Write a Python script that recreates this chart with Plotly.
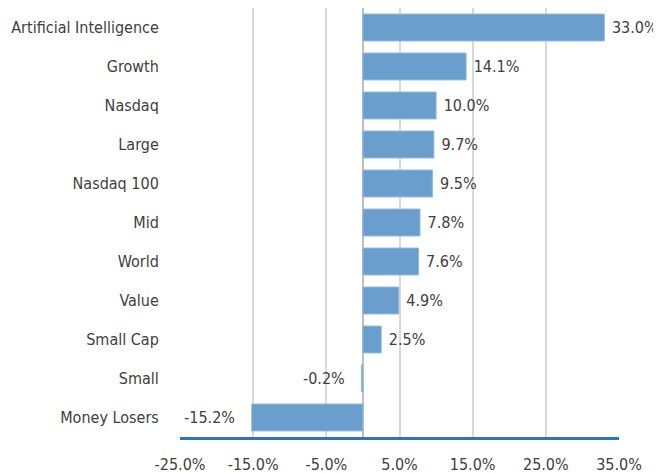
import plotly.graph_objects as go

categories = ["Artificial Intelligence", "Growth", "Nasdaq", "Large", "Nasdaq 100",
              "Mid", "World", "Value", "Small Cap", "Small", "Money Losers"]
values = [33.0, 14.1, 10.0, 9.7, 9.5, 7.8, 7.6, 4.9, 2.5, -0.2, -15.2]
tick_vals = [-25, -15, -5, 5, 15, 25, 35]
tick_text = ["-25.0%", "-15.0%", "-5.0%", "5.0%", "15.0%", "25.0%", "35.0%"]

FONT = "Liberation Sans Narrow, Arial Narrow, DejaVu Sans Condensed, sans-serif"
TXT = "#404040"
FS = 16

labels = [(" %.1f%%" % v) if v >= 0 else ("%.1f%%   " % v) for v in values]

fig = go.Figure(go.Bar(
    y=categories, x=values, orientation="h",
    marker=dict(color="#6a9fcd", line=dict(color="#8fb8dc", width=1)),
    text=labels, textposition="outside", cliponaxis=False, constraintext="none",
    textfont=dict(family=FONT, size=FS, color=TXT),
    width=0.69,
))

# page body has an 8px margin, so the figure starts at (8, 8) in the window
fig.update_layout(
    width=653, height=465,
    margin=dict(l=172, r=42, t=0, b=36),
    plot_bgcolor="white", paper_bgcolor="white",
    showlegend=False,
    font=dict(family=FONT, size=FS, color=TXT),
    xaxis=dict(range=[-25, 35], tickvals=tick_vals, ticktext=tick_text,
               automargin=False,
               showgrid=True, gridcolor="#d9d9d9", gridwidth=2,
               zeroline=True, zerolinecolor="#bfbfbf", zerolinewidth=2,
               showline=True, linecolor="#2e75b6", linewidth=3,
               ticks="outside", ticklen=11, tickcolor="rgba(0,0,0,0)",
               tickfont=dict(family=FONT, size=FS, color=TXT)),
    yaxis=dict(autorange="reversed", showgrid=False, zeroline=False, showline=False,
               automargin=False,
               ticks="outside", ticklen=17, tickcolor="rgba(0,0,0,0)",
               tickfont=dict(family=FONT, size=FS, color=TXT)),
)

fig.write_html("out.html")
